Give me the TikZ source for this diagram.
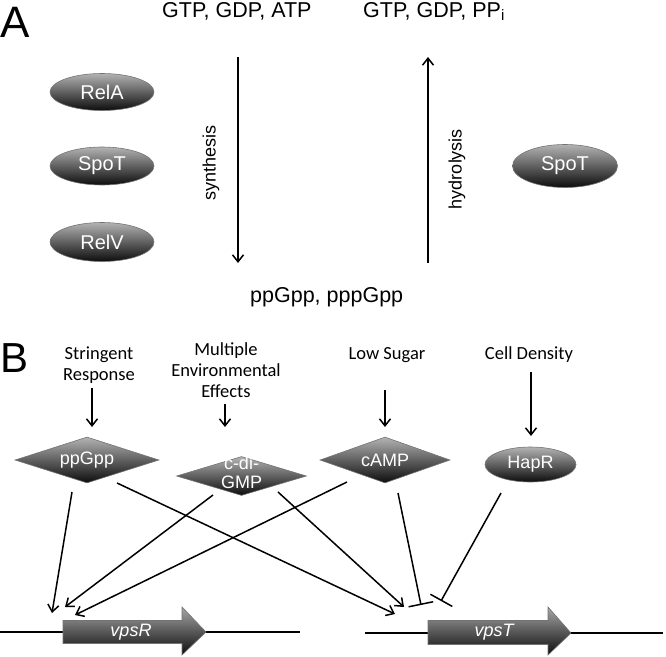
\documentclass[tikz,border=0pt]{standalone}
\usepackage{fontspec}
\setmainfont{Liberation Sans}
\newfontfamily\carl{Carlito}
\usetikzlibrary{arrows.meta,shapes.geometric}
\begin{document}
\begin{tikzpicture}[x=1pt,y=-1pt,
  ell/.style={ellipse, draw=black!55, line width=0.6pt, top color=black!30, bottom color=black!95, text=white, inner sep=0pt, font=\fontsize{20}{24}\selectfont},
  dia/.style={diamond, draw=black!55, line width=0.6pt, top color=black!30, bottom color=black!95, inner sep=0pt},
  diatext/.style={text=white, inner sep=0pt, align=center, font=\fontsize{18}{19}\selectfont},
  lab/.style={font=\carl\fontsize{18.5}{21}\selectfont, align=center, inner sep=0pt},
  big/.style={font=\fontsize{44}{44}\selectfont, inner sep=0pt, anchor=base west},
  toplab/.style={font=\fontsize{21.5}{24}\selectfont, inner sep=0pt, anchor=base west},
  rotlab/.style={font=\fontsize{18}{20}\selectfont, inner sep=0pt, rotate=90},
  arr/.style={line width=1.5pt, -{Straight Barb[length=7pt,width=11pt,line width=1.5pt]}},
  inh/.style={line width=1.5pt, -{Bar[width=25pt,line width=1.5pt]}},
  dna/.style={line width=1.5pt},
  gene/.style={draw=black!55, line width=0.6pt, top color=black!35, bottom color=black!95},
  genetext/.style={text=white, inner sep=0pt, font=\fontsize{18}{20}\selectfont\itshape},
]
\useasboundingbox[fill=white] (0,0) rectangle (666,656);

% ---------- Panel A ----------
\node[big] (labA) at (0,37) {A};
\node[toplab] (sub1) at (162,17) {GTP, GDP, ATP};
\node[toplab] (sub2) at (363,17) {GTP, GDP, PP\textsubscript{i}};
\node[toplab] (prod) at (250,302) {ppGpp, pppGpp};

\node[ell, minimum width=104pt, minimum height=37pt] (relA) at (102,92) {RelA};
\node[ell, minimum width=104pt, minimum height=38pt] (spoTa) at (102,166) {SpoT};
\node[ell, minimum width=104pt, minimum height=39pt] (relV) at (102,242) {RelV};
\node[ell, minimum width=105pt, minimum height=43pt] (spoTb) at (565,166) {SpoT};

\coordinate (syn1) at (238,57);
\coordinate (syn2) at (238,263);
\coordinate (hyd1) at (428,263);
\coordinate (hyd2) at (428,57);
\draw[arr] (syn1) -- (syn2);
\draw[arr] (hyd1) -- (hyd2);
\node[rotlab] (synlab) at (211,163) {synthesis};
\node[rotlab] (hydlab) at (457,169) {hydrolysis};

% ---------- Panel B ----------
\node[big, font=\fontsize{42}{42}\selectfont] (labB) at (0,372) {B};

\node[lab] (sr) at (99,365) {Stringent\\Response};
\node[lab] (mee) at (226,370) {Multiple\\Environmental\\Effects};
\node[lab] (ls) at (387,355) {Low Sugar};
\node[lab] (cd) at (529,355) {Cell Density};

\node[dia, minimum width=144pt, minimum height=46pt] (ppg) at (87,460) {};
\node[diatext] (ppgt) at (ppg.center) {ppGpp};
\node[dia, minimum width=130pt, minimum height=39pt] (cdg) at (241.5,476) {};
\node[diatext] (cdgt) at (241.5,473) {c-di-\\GMP};
\node[dia, minimum width=130pt, minimum height=46pt] (camp) at (385,460) {};
\node[diatext] (campt) at (camp.center) {cAMP};
\node[ell, minimum width=91pt, minimum height=35pt, font=\fontsize{18}{20}\selectfont] (hapr) at (530.5,464.5) {HapR};

\coordinate (srA) at (92,388);   \coordinate (srB) at (92,427);
\coordinate (meeA) at (225,404); \coordinate (meeB) at (225,427);
\coordinate (lsA) at (385,390);  \coordinate (lsB) at (385,427);
\coordinate (cdA) at (531,372);  \coordinate (cdB) at (531,436);
\draw[arr] (srA) -- (srB);
\draw[arr] (meeA) -- (meeB);
\draw[arr] (lsA) -- (lsB);
\draw[arr] (cdA) -- (cdB);

% genes
\coordinate (dnaR1) at (0,632);   \coordinate (dnaR2) at (300,632);
\coordinate (dnaT1) at (365,633); \coordinate (dnaT2) at (663,633);
\draw[dna] (dnaR1) -- (dnaR2);
\draw[dna] (dnaT1) -- (dnaT2);
\shade[gene] (63,620.5) -- (182,620.5) -- (182,607) -- (206,632) -- (182,655) -- (182,643.5) -- (63,643.5) -- cycle;
\node[genetext] (vpsR) at (131,632) {vpsR};
\shade[gene] (428,620.5) -- (548,620.5) -- (548,607) -- (571,633) -- (548,655) -- (548,644.5) -- (428,644.5) -- cycle;
\node[genetext] (vpsT) at (494,632) {vpsT};

% regulatory connectors
\coordinate (p1a) at (72,492);   \coordinate (p1b) at (52,613);
\coordinate (p2a) at (117,483);  \coordinate (p2b) at (395,614);
\coordinate (c1a) at (213,495);  \coordinate (c1b) at (65,607);
\coordinate (c2a) at (278,492);  \coordinate (c2b) at (404,607);
\coordinate (a1a) at (347,482);  \coordinate (a1b) at (75,615);
\coordinate (a2a) at (398,493);  \coordinate (a2b) at (421,605);
\coordinate (h1a) at (501,493);  \coordinate (h1b) at (441,601);
\draw[arr] (p1a) -- (p1b);
\draw[arr] (p2a) -- (p2b);
\draw[arr] (c1a) -- (c1b);
\draw[arr] (c2a) -- (c2b);
\draw[arr] (a1a) -- (a1b);
\draw[inh] (a2a) -- (a2b);
\draw[inh] (h1a) -- (h1b);
\end{tikzpicture}
\end{document}
